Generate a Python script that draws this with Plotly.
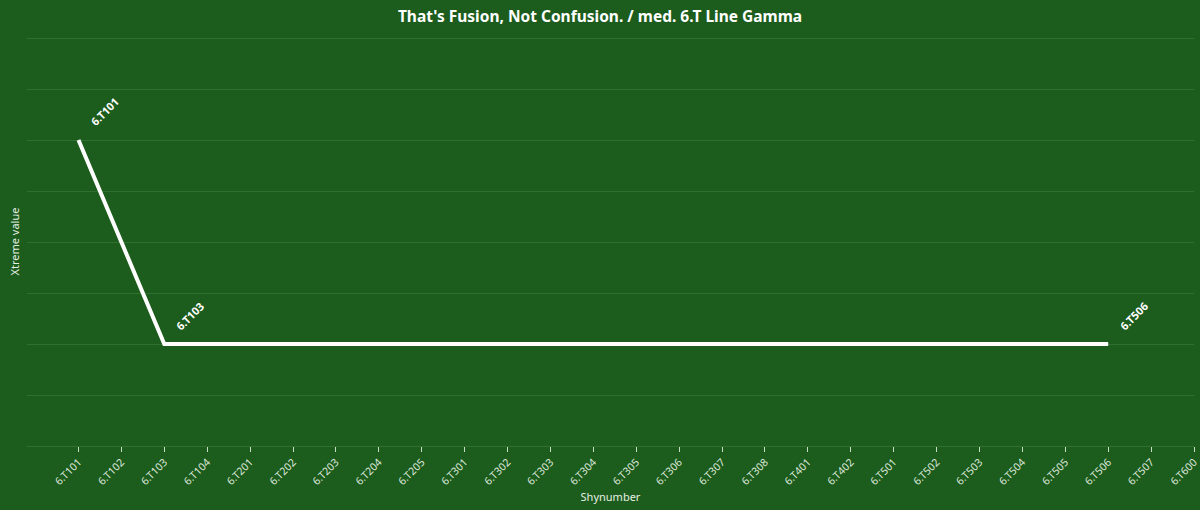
import plotly.graph_objects as go

# categories along the x axis
shynumbers = ['6.T101', '6.T102', '6.T103', '6.T104', '6.T201', '6.T202', '6.T203',
              '6.T204', '6.T205', '6.T301', '6.T302', '6.T303', '6.T304', '6.T305',
              '6.T306', '6.T307', '6.T308', '6.T401', '6.T402', '6.T501', '6.T502',
              '6.T503', '6.T504', '6.T505', '6.T506', '6.T507', '6.T600']

# only three points carry a value
point_x = ['6.T101', '6.T103', '6.T506']
point_y = [6, 2, 2]

bg = '#1c5c1c'
grid = '#2f6f2f'
font_family = 'Noto Sans'

fig = go.Figure()
fig.add_trace(go.Scatter(
    x=point_x, y=point_y,
    mode='lines',
    line=dict(color='white', width=4),
    hoverinfo='x+y',
    showlegend=False,
))

# rotated data labels
for px, py in zip(point_x, point_y):
    fig.add_annotation(
        x=px, y=py, text=f'<b>{px}</b>',
        textangle=-45, showarrow=False,
        xanchor='left', yanchor='bottom',
        xshift=6, yshift=8,
        font=dict(family=font_family, size=11, color='white'),
    )

fig.update_layout(
    width=1200, height=510,
    paper_bgcolor=bg, plot_bgcolor=bg,
    font=dict(family=font_family, color='#e6efe6'),
    title=dict(text="<b>That's Fusion, Not Confusion. / med. 6.T Line Gamma</b>",
               x=0.5, xanchor='center', y=0.968, yanchor='middle',
               font=dict(size=15.5, color='white')),
    margin=dict(l=27, r=0, t=37, b=64),
    xaxis=dict(
        type='category',
        categoryorder='array', categoryarray=shynumbers,
        tickvals=shynumbers,
        range=[-1.2, 26],
        tickangle=-45,
        tickfont=dict(size=10.5, color='#dce8dc'),
        ticks='outside', ticklen=5, tickcolor='#c8dcc8', tickwidth=1,
        showgrid=False,
        showline=True, linecolor=grid, linewidth=1,
        title=dict(text='Shynumber', font=dict(size=11, color='#e6efe6'), standoff=6),
    ),
    yaxis=dict(
        range=[0, 8.02], dtick=1,
        showticklabels=False,
        gridcolor=grid, gridwidth=1,
        zeroline=False,
        title=dict(text='Xtreme value', font=dict(size=11, color='#e6efe6'), standoff=4),
    ),
)

fig.write_html('out.html', config={'displayModeBar': False},
               post_script="document.body.style.margin='0';")
